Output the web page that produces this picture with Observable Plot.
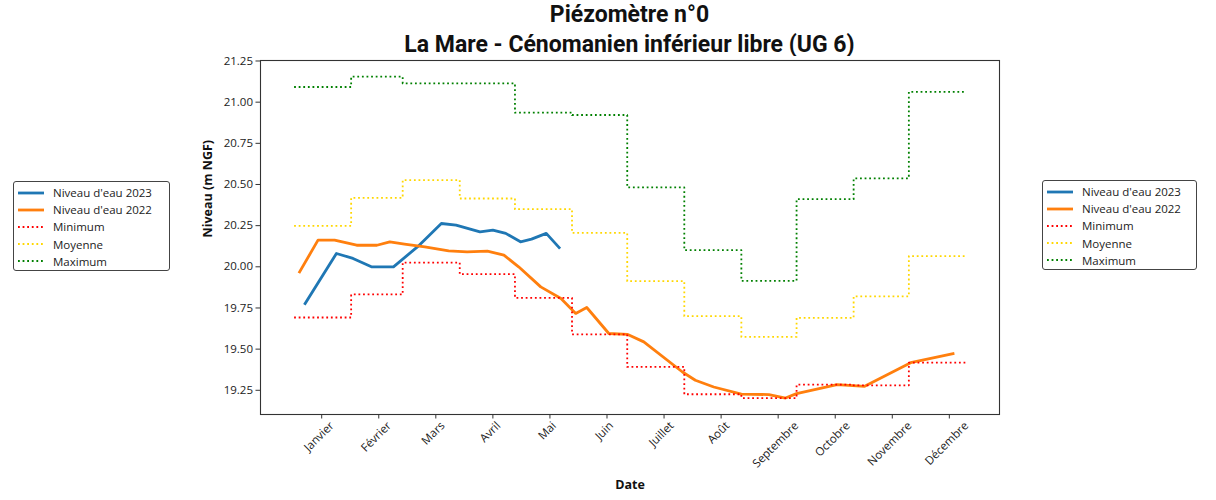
<!DOCTYPE html>
<html><head><meta charset="utf-8">
<script src="https://cdn.jsdelivr.net/npm/d3@7"></script>
<script src="https://cdn.jsdelivr.net/npm/@observablehq/plot@0.6"></script>
<style>
body{margin:0;background:#fff;width:1216px;height:500px;overflow:hidden;position:relative;font-family:"Open Sans",sans-serif;}
#titre{position:absolute;left:0;top:0;width:1259px;text-align:center;font-family:Roboto,sans-serif;font-weight:bold;font-size:23px;line-height:30px;color:#111;}
#chart{position:absolute;left:0;top:56px;}
#chart svg{overflow:visible;}
.legende{position:absolute;border:1px solid #444;border-radius:3px;background:#fff;padding:2px 8px 2px 3px;box-sizing:border-box;}
.ligne{display:flex;align-items:center;height:17.2px;font-size:11.5px;color:#222;white-space:nowrap;}
.ligne svg{margin-right:8px;flex:none;}
</style></head>
<body>
<div id="titre">Piézomètre n°0<br>La Mare - Cénomanien inférieur libre (UG 6)</div>
<div id="chart"></div>
<div id="legG" class="legende" style="left:13px;top:181px;width:157px;height:90px;"></div>
<div id="legD" class="legende" style="left:1042px;top:180px;width:155px;height:90px;"></div>
<script>
// ---- Données ----
const mois = ["Janvier","Février","Mars","Avril","Mai","Juin","Juillet","Août","Septembre","Octobre","Novembre","Décembre"];
const joursTicks = [15,46,77,108,139,170,201,232,263,294,325,356];
const debutsMois = [0,31,59,90,120,151,181,212,243,273,304,334];
const finAnnee = 365;

const jours2023 = [6,23,32,42,54,67,80,88,101,108,115,123,129,137,144];
const niveaux2023 = [19.777,20.081,20.051,20.0,20.0,20.121,20.263,20.253,20.212,20.223,20.203,20.152,20.168,20.203,20.117];

const jours2022 = [3,13,22,34,45,52,60,71,84,94,105,114,122,134,145,153,159,171,181,190,211,218,228,243,258,267,273,295,310,335,358];
const niveaux2022 = [19.969,20.162,20.162,20.131,20.131,20.152,20.138,20.121,20.097,20.091,20.095,20.071,20.0,19.878,19.807,19.717,19.753,19.595,19.590,19.544,19.361,19.311,19.270,19.227,19.224,19.203,19.230,19.285,19.274,19.418,19.473];

const minimum = [19.692,19.832,20.026,19.955,19.811,19.590,19.392,19.226,19.203,19.285,19.280,19.418];
const moyenne = [20.249,20.419,20.527,20.415,20.350,20.206,19.913,19.700,19.574,19.690,19.821,20.065];
const maximum = [21.092,21.155,21.114,21.114,20.936,20.922,20.482,20.101,19.914,20.411,20.537,21.063];

const yTicks = [19.25,19.5,19.75,20.0,20.25,20.5,20.75,21.0,21.25];

// ---- Séries ----
const serie = (jours, vals) => jours.map((j,i)=>({jour:j, v:vals[i]}));
const marches = vals => debutsMois.map((d,i)=>({jour:d, v:vals[i]})).concat([{jour:finAnnee, v:vals[vals.length-1]}]);

const series = [
  {nom:"Niveau d'eau 2023", data:serie(jours2023,niveaux2023), stroke:"#1f77b4", width:2.8, dash:null, curve:"linear"},
  {nom:"Niveau d'eau 2022", data:serie(jours2022,niveaux2022), stroke:"#ff7f0e", width:2.8, dash:null, curve:"linear"},
  {nom:"Minimum", data:marches(minimum), stroke:"red", width:1.8, dash:"1.8,2.8", curve:"step-after"},
  {nom:"Moyenne", data:marches(moyenne), stroke:"gold", width:1.8, dash:"1.8,2.8", curve:"step-after"},
  {nom:"Maximum", data:marches(maximum), stroke:"green", width:1.8, dash:"1.8,2.8", curve:"step-after"}
];

// ---- Libellés inclinés ----
const tickFont = 11.5;
const ctx = document.createElement("canvas").getContext("2d");
ctx.font = `${tickFont}px "Open Sans"`;
const labelMarks = mois.map((m,i)=>{
  const w = ctx.measureText(m).width;
  const h = (w + tickFont*1.2)*Math.SQRT1_2;
  return Plot.text([m], {x:()=>joursTicks[i], frameAnchor:"bottom", dy: 7 + h/2, rotate:-45, text:d=>d, fontSize:tickFont, fill:"#222"});
});

const W=1216, H=444;
const chart = Plot.plot({
  width:W, height:H,
  marginLeft:260, marginRight:217, marginTop:4, marginBottom:86,
  style:{fontFamily:'"Open Sans",sans-serif', fontSize:"11.5px", color:"#222", background:"#fff"},
  x:{type:"linear", domain:[-18.25,383.25], label:null},
  y:{domain:[19.103,21.253], label:null},
  marks:[
    ...series.map(s=>Plot.line(s.data, {x:"jour", y:"v", stroke:s.stroke, strokeWidth:s.width, strokeDasharray:s.dash, curve:s.curve, strokeLinecap: s.dash? "butt":"square"})),
    Plot.frame({stroke:"#333", strokeWidth:1.1}),
    Plot.axisY({ticks:yTicks, tickFormat:d3.format(".2f"), tickSize:4.5, tickPadding:3, fontSize:11.5, stroke:"#333", label:null}),
    Plot.axisX({ticks:joursTicks, tickFormat:()=>"", tickSize:4.5, stroke:"#333", label:null}),
    ...labelMarks,
    Plot.text(["Niveau (m NGF)"], {frameAnchor:"left", dx:-53, rotate:-90, text:d=>d, fontWeight:"bold", fontSize:12.5, fill:"#111"}),
    Plot.text(["Date"], {frameAnchor:"bottom", dy:74, text:d=>d, fontWeight:"bold", fontSize:12.5, fill:"#111"})
  ]
});
document.getElementById("chart").appendChild(chart);

// ---- Légendes ----
function legende(el){
  for(const s of series){
    const row = document.createElement("div"); row.className="ligne";
    row.innerHTML = `<svg width="28" height="10"><line x1="1" x2="27" y1="5" y2="5" stroke="${s.stroke}" stroke-width="${s.width}" ${s.dash?`stroke-dasharray="${s.dash}"`:""}/></svg><span>${s.nom}</span>`;
    el.appendChild(row);
  }
}
legende(document.getElementById("legG"));
legende(document.getElementById("legD"));
</script>
</body></html>
